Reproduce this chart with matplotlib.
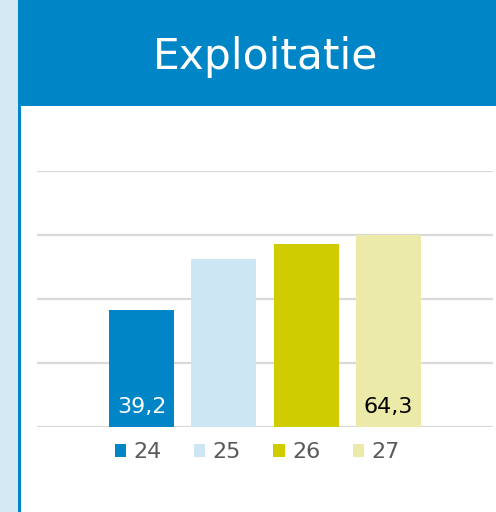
import matplotlib
matplotlib.use("Agg")
import matplotlib.pyplot as plt
from matplotlib.patches import Rectangle
import numpy as np

# chart data
categories = ["24", "25", "26", "27"]
values     = [39.2, 56.2, 61.2, 64.3]
labels     = ["39,2", "", "", "64,3"]      # only first and last shown
label_cols = ["white", "black", "black", "black"]
colors     = ["#0085C7", "#CCE6F3", "#CFCC00", "#EBEAA8"]
title      = "Exploitatie"

YMAX   = 85.6
HEADER = "#0085C7"
STRIP  = "#D5E9F4"

fig = plt.figure(figsize=(4.96, 5.12), dpi=100)

# left light strip + blue edge line
fig.patches.append(Rectangle((0, 0), 18 / 496, 1, transform=fig.transFigure,
                             facecolor=STRIP, edgecolor="none", zorder=0))
fig.patches.append(Rectangle((18 / 496, 0), 3 / 496, 1, transform=fig.transFigure,
                             facecolor=HEADER, edgecolor="none", zorder=1))
# header band
fig.patches.append(Rectangle((18 / 496, 1 - 106 / 512), 1, 106 / 512,
                             transform=fig.transFigure,
                             facecolor=HEADER, edgecolor="none", zorder=1))
fig.text(266 / 496, 1 - 57 / 512, title, color="white", fontsize=30.5,
         ha="center", va="center")

ax = fig.add_axes([37 / 496, 1 - 426.7 / 512, 456 / 496, 255.7 / 512])
x = np.arange(len(categories))
bars = ax.bar(x, values, width=0.79, color=colors, zorder=2)

ax.set_ylim(0, YMAX)
ax.set_xlim(-1.27, 4.27)
ax.set_yticks(np.linspace(0, YMAX, 5))
ax.grid(axis="y", color="#D9D9D9", linewidth=1.6, zorder=0)
ax.set_axisbelow(True)
ax.tick_params(left=False, bottom=False, labelleft=False, labelbottom=False)
for s in ax.spines.values():
    s.set_visible(False)

for xi, lab, c in zip(x, labels, label_cols):
    if lab:
        ax.text(xi, 3.2, lab, ha="center", va="bottom", color=c, fontsize=16)

leg = ax.legend(bars, categories, ncol=4, loc="upper center",
                bbox_to_anchor=(0.483, 0.018), frameon=False,
                fontsize=16, labelcolor="#595959",
                handlelength=0.5, handleheight=0.5, handletextpad=0.35,
                columnspacing=1.45)

fig.savefig("out.png", dpi=100)
